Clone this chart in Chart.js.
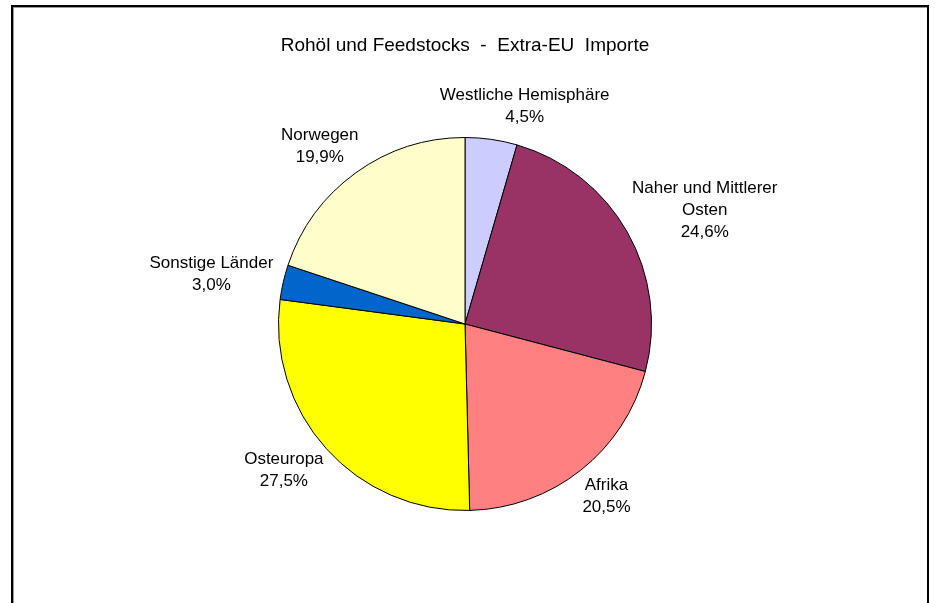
<!DOCTYPE html>
<html lang="de">
<head>
    <meta charset="UTF-8">
    <title>Rohöl und Feedstocks - Extra-EU Importe</title>
    <script src="https://cdn.jsdelivr.net/npm/chart.js"></script>
    <style>
        html, body {
            margin: 0;
            padding: 0;
            background: #fff;
            overflow: hidden;
        }
        .frame {
            position: absolute;
            left: 11px;
            top: 5px;
            width: 914px;
            height: 640px;
            border: 2px solid #000;
            box-shadow: inset 1px 1px 0 #999;
        }
        .wrap {
            position: absolute;
            left: 0;
            top: 0;
            width: 935px;
            height: 603px;
        }
    </style>
</head>
<body>
    <div class="frame"></div>
    <div class="wrap"><canvas id="pieChart"></canvas></div>

    <script>
        // Data (clockwise from 12 o'clock)
        var regions = [
            ['Westliche Hemisphäre'],
            ['Naher und Mittlerer', 'Osten'],
            ['Afrika'],
            ['Osteuropa'],
            ['Sonstige Länder'],
            ['Norwegen']
        ];
        var shares = [4.5, 24.6, 20.5, 27.5, 3.0, 19.9];
        var sliceColors = ['#CCCCFF', '#993366', '#FF8080', '#FFFF00', '#0066CC', '#FFFFCC'];

        var fontFamily = '"Liberation Sans", Arial, sans-serif';
        var labelFont = '17px ' + fontFamily;
        var lineH = 22;

        // Draw Excel-like labels outside each slice
        var outsideLabels = {
            id: 'outsideLabels',
            afterDatasetsDraw: function (chart) {
                var ctx = chart.ctx;
                var meta = chart.getDatasetMeta(0);
                ctx.save();
                ctx.font = labelFont;
                ctx.fillStyle = '#000';
                ctx.textAlign = 'center';
                ctx.textBaseline = 'middle';
                meta.data.forEach(function (arc, i) {
                    var lines = regions[i].concat([shares[i].toFixed(1).replace('.', ',') + '%']);
                    var mid = (arc.startAngle + arc.endAngle) / 2;
                    var cosA = Math.cos(mid), sinA = Math.sin(mid);
                    var dist = arc.outerRadius + 11;
                    var px = arc.x + cosA * dist;
                    var py = arc.y + sinA * dist;
                    var w = 0;
                    lines.forEach(function (l) { w = Math.max(w, ctx.measureText(l).width); });
                    var h = lines.length * lineH;
                    var cx = px + Math.sign(cosA) * Math.sqrt(Math.abs(cosA)) * w / 2;
                    var cy = py + sinA * h / 2;
                    lines.forEach(function (l, k) {
                        ctx.fillText(l, cx, cy - h / 2 + lineH / 2 + k * lineH);
                    });
                });
                ctx.restore();
            }
        };

        var ctx = document.getElementById('pieChart').getContext('2d');
        var pieChart = new Chart(ctx, {
            type: 'pie',
            data: {
                labels: regions.map(function (r) { return r.join(' '); }),
                datasets: [{
                    data: shares,
                    backgroundColor: sliceColors,
                    borderColor: '#000',
                    borderWidth: 1
                }]
            },
            options: {
                responsive: true,
                maintainAspectRatio: false,
                animation: false,
                layout: {
                    padding: { left: 278, right: 283, top: 0, bottom: 92 }
                },
                plugins: {
                    legend: { display: false },
                    tooltip: { enabled: false },
                    title: {
                        display: true,
                        text: 'Rohöl und Feedstocks  -  Extra-EU  Importe',
                        color: '#000',
                        font: { family: fontFamily, size: 19, weight: 'normal', lineHeight: 1.2 },
                        padding: { top: 34, bottom: 80.2 }
                    }
                }
            },
            plugins: [outsideLabels]
        });
    </script>
</body>
</html>
